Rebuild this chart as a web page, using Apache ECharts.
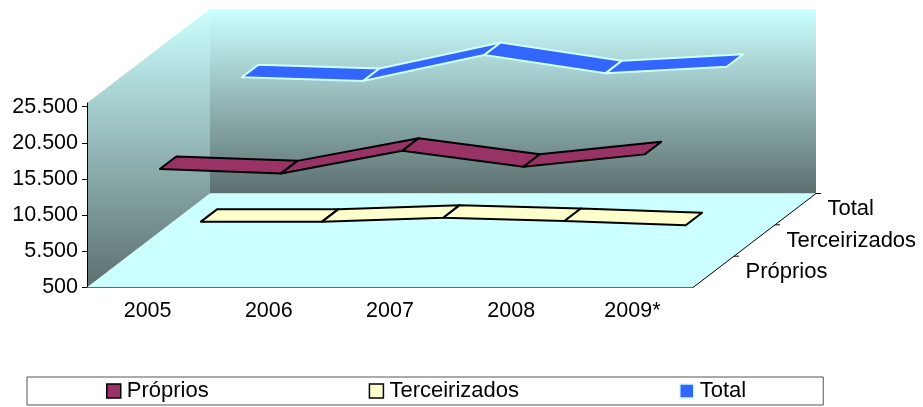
<!DOCTYPE html>
<html>
<head>
<meta charset="utf-8">
<script src="https://cdn.jsdelivr.net/npm/echarts@6/dist/echarts.min.js"></script>
</head>
<body style="margin:0;background:#fff">
<div id="main" style="width:923px;height:407px"></div>
<script>
var anos = ['2005', '2006', '2007', '2008', '2009*'];
var proprios = [15570, 14970, 18090, 15880, 17600];
var terceirizados = [3970, 3970, 4520, 4060, 3470];
var total = [19590, 19070, 22670, 20140, 21050];
var nomes = ['Próprios', 'Terceirizados', 'Total'];
var yTicks = [500, 5500, 10500, 15500, 20500, 25500];

var yMin = 500, yMax = 26000;
// oblique offset of the full depth axis, in pixels
var depthDx = 123, depthDy = 94;
var ribbonGap = 0.3; // share of one depth slot left empty on each side
var font = '"Liberation Sans", Arial, sans-serif';

var myChart = echarts.init(document.getElementById('main'), null, {renderer: 'canvas'});

function fmt(v) {
	return String(v).replace(/\B(?=(\d{3})+$)/g, '.');
}
function shift(p, d) {
	return [p[0] + d * depthDx, p[1] - d * depthDy];
}

// walls, floor and the depth axis
function renderBox(params, api) {
	var band = api.size([1, 0])[0];
	var x0 = api.coord([0, yMin])[0] - band / 2;
	var x1 = api.coord([anos.length - 1, yMin])[0] + band / 2;
	var yb = api.coord([0, yMin])[1];
	var yt = api.coord([0, yMax])[1];
	var fl = [x0, yb], fr = [x1, yb], tl = [x0, yt];
	var wall = new echarts.graphic.LinearGradient(0, 0, 0, 1, [
		{offset: 0, color: '#CCFFFF'},
		{offset: 1, color: '#5C6F6F'}
	]);
	var kids = [
		{type: 'polygon', shape: {points: [fl, tl, shift(tl, 1), shift(fl, 1)]}, style: {fill: wall}},
		{type: 'polygon', shape: {points: [shift(fl, 1), shift(tl, 1), shift([x1, yt], 1), shift(fr, 1)]}, style: {fill: wall}},
		{type: 'polygon', shape: {points: [fl, fr, shift(fr, 1), shift(fl, 1)]}, style: {fill: '#CCFFFF'}},
		{type: 'line', shape: {x1: fr[0], y1: fr[1], x2: fr[0] + depthDx, y2: fr[1] - depthDy}, style: {stroke: '#000', lineWidth: 1}}
	];
	for (var i = 0; i < nomes.length; i++) {
		var t = shift(fr, (i + 1) / nomes.length);
		kids.push({type: 'line', shape: {x1: t[0], y1: t[1], x2: t[0] + 5, y2: t[1]}, style: {stroke: '#000', lineWidth: 1}});
		var c = shift(fr, (i + 0.5) / nomes.length);
		kids.push({type: 'text', x: c[0] + 32, y: c[1], style: {
			text: nomes[i], fill: '#000', font: '22px ' + font, textAlign: 'left', textVerticalAlign: 'middle'
		}});
	}
	return {type: 'group', children: kids};
}

// one ribbon segment between a year and the next one
function ribbon(slot, fill, stroke) {
	return function (params, api) {
		var a = api.coord([api.value(0), api.value(1)]);
		var b = api.coord([api.value(0) + 1, api.value(2)]);
		var d0 = (slot + ribbonGap) / nomes.length;
		var d1 = (slot + 1 - ribbonGap) / nomes.length;
		return {
			type: 'polygon',
			shape: {points: [shift(a, d0), shift(a, d1), shift(b, d1), shift(b, d0)]},
			style: {fill: fill, stroke: stroke, lineWidth: 2, lineJoin: 'round'}
		};
	};
}
function segmentos(vals) {
	var out = [];
	for (var i = 0; i < vals.length - 1; i++) {
		out.push([i, vals[i], vals[i + 1]]);
	}
	return out;
}

var option = {
	animation: false,
	backgroundColor: '#fff',
	textStyle: {fontFamily: font},
	grid: {left: 87, width: 606, top: 103, height: 184.5},
	legend: {
		left: 27,
		top: 377,
		padding: [3, 77, 3, 79],
		orient: 'horizontal',
		itemWidth: 14,
		itemHeight: 14,
		itemGap: 160,
		borderColor: '#555',
		borderWidth: 1,
		textStyle: {color: '#000', fontSize: 22, fontFamily: font, padding: [0, 0, 0, 1]},
		data: [
			{name: nomes[0], icon: 'rect', itemStyle: {color: '#993366', borderColor: '#000', borderWidth: 1.5}},
			{name: nomes[1], icon: 'rect', itemStyle: {color: '#FFFFCC', borderColor: '#000', borderWidth: 1.5}},
			{name: nomes[2], icon: 'rect', itemStyle: {color: '#3366FF', borderColor: '#CCFFFF', borderWidth: 1.5}}
		]
	},
	xAxis: {
		type: 'category',
		data: anos,
		z: 5,
		axisLine: {lineStyle: {color: '#5C6F6F', width: 1}},
		axisTick: {length: 6, alignWithLabel: false, lineStyle: {color: '#000'}},
		axisLabel: {color: '#000', fontSize: 21.5, fontFamily: font, margin: 13, interval: 0},
		splitLine: {show: false}
	},
	yAxis: {
		type: 'value',
		min: yMin,
		max: yMax,
		z: 5,
		axisLine: {show: true, lineStyle: {color: '#000', width: 1}},
		axisTick: {show: true, length: 5, customValues: yTicks, lineStyle: {color: '#000'}},
		axisLabel: {color: '#000', fontSize: 21.5, fontFamily: font, margin: 9, customValues: yTicks, formatter: fmt},
		splitLine: {show: false}
	},
	series: [
		{type: 'custom', silent: true, clip: false, z: 1, coordinateSystem: 'cartesian2d', data: [[0, yMin]], renderItem: renderBox},
		{type: 'custom', name: nomes[2], silent: true, clip: false, z: 2, data: segmentos(total), itemStyle: {color: '#3366FF'}, renderItem: ribbon(2, '#3366FF', '#CCFFFF')},
		{type: 'custom', name: nomes[1], silent: true, clip: false, z: 3, data: segmentos(terceirizados), itemStyle: {color: '#FFFFCC'}, renderItem: ribbon(1, '#FFFFCC', '#000')},
		{type: 'custom', name: nomes[0], silent: true, clip: false, z: 4, data: segmentos(proprios), itemStyle: {color: '#993366'}, renderItem: ribbon(0, '#993366', '#000')}
	]
};
myChart.setOption(option);
</script>
</body>
</html>
